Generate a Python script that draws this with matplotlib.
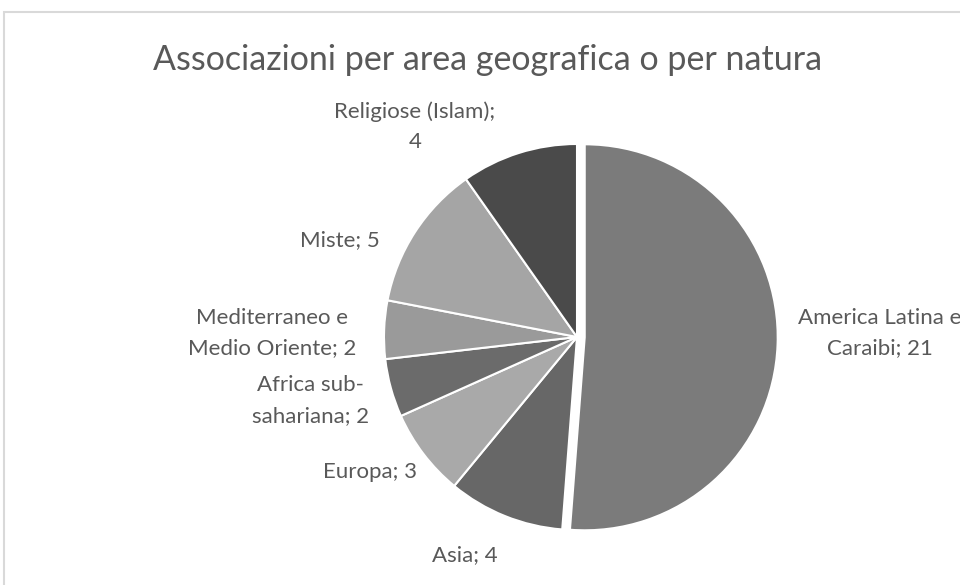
import matplotlib
matplotlib.use("Agg")
import matplotlib.pyplot as plt
from matplotlib.patches import Rectangle

# data, clockwise from 12 o'clock
categories = ["America Latina e\nCaraibi", "Asia", "Europa", "Africa sub-\nsahariana",
              "Mediterraneo e\nMedio Oriente", "Miste", "Religiose (Islam);\n"]
values = [21, 4, 3, 2, 2, 5, 4]
colors = ["#7b7b7b", "#676767", "#a9a9a9", "#6b6b6b", "#9a9a9a", "#a5a5a5", "#4a4a4a"]
explode = [0.04, 0, 0, 0, 0, 0, 0]

# label placement in pie-radius units (Excel "best fit" look)
label_pos = [(1.57, 0.02), (-0.58, -1.13), (-1.07, -0.70), (-1.38, -0.33),
             (-1.58, 0.02), (-1.23, 0.50), (-0.84, 1.09)]

W, H = 960, 585
cx, cy, r = 577, 337, 193
text_color = "#595959"

plt.rcParams['font.family'] = ['Lato', 'DejaVu Sans']

fig = plt.figure(figsize=(W / 100, H / 100), dpi=100)
ax = fig.add_axes([0, 0, 1, 1])

ax.pie(values, colors=colors, explode=explode, startangle=90, counterclock=False,
       radius=1, wedgeprops=dict(edgecolor="white", linewidth=1.5))

for cat, val, (x, y) in zip(categories, values, label_pos):
    if cat.endswith("\n"):
        txt = f"{cat}{val}"
    else:
        txt = f"{cat}; {val}"
    ax.text(x, y, txt, ha="center", va="center", fontsize=16,
            color=text_color, linespacing=1.65)

ax.set_xlim(-cx / r, (W - cx) / r)
ax.set_ylim(-(H - cy) / r, cy / r)
ax.set_aspect("auto")
ax.axis("off")

# chart-area border (cropped on right and bottom)
fig.patches.append(Rectangle((4 / W, -0.05), 1.1, 1 - 12 / H + 0.05, transform=fig.transFigure,
                             fill=False, edgecolor="#d9d9d9", linewidth=1.5))

fig.text(488 / W, 1 - 60 / H, "Associazioni per area geografica o per natura",
         ha="center", va="center", fontsize=24.5, color=text_color)

fig.savefig("out.png", dpi=100)
